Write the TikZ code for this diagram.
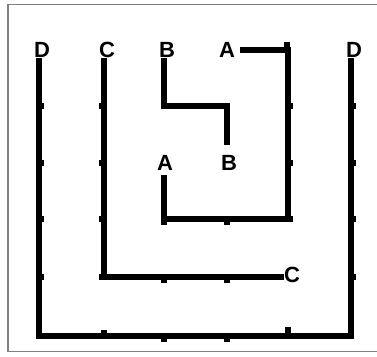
\documentclass[tikz,border=0pt]{standalone}
\usepackage{fontspec}
\setmainfont{Liberation Sans}
\usetikzlibrary{
  arrows.meta,
  positioning,
  calc
}

\begin{document}
\begin{tikzpicture}[
        x=1pt, y=-1pt,
        wire/.style={line width=5.5pt, line join=miter},
        lbl/.style={font=\fontsize{22}{24}\bfseries\selectfont, inner sep=0pt}
    ]
        \useasboundingbox (0,0) rectangle (377,356);
        % Rahmen
        \draw[gray, line width=1.5pt] (377,4.5) -- (8,4.5) -- (8,351.5) -- (377,351.5);
        % Gitterpunkte
        \foreach \c/\x in {0/39,1/104,2/164,3/227,4/288,5/351}
          \foreach \r/\y in {0/50,1/106,2/163,3/219,4/277,5/336}
            \coordinate (g\c\r) at (\x,\y);
        % kleine Marken an den Gitterpunkten
        \foreach \c/\r/\dx/\dy in {0/1/2/0, 0/2/2/0, 0/3/2/0, 0/4/2/0,
                                   1/1/-2/0, 1/2/-2/0, 1/3/-2/0, 1/4/-2/0,
                                   4/0/-1/-5, 4/1/2/0, 4/2/2/0, 4/3/2/0,
                                   5/1/2/0, 5/2/2/0, 5/3/2/0, 5/4/2/0,
                                   2/3/0/3, 3/3/0/3, 2/4/0/3, 3/4/0/3,
                                   1/5/0/-3, 2/5/0/3, 3/5/0/3, 4/5/0/-6} {
            \fill ($(g\c\r)+(\dx,\dy)+(-3,-3)$) rectangle ++(6,6);
        }
        % Buchstaben
        \node[lbl, xshift=3pt] (dL) at (g00) {D};
        \node[lbl, xshift=3pt] (cT) at (g10) {C};
        \node[lbl, xshift=3pt] (bT) at (g20) {B};
        \node[lbl] (aT) at (g30) {A};
        \node[lbl, xshift=3pt] (dR) at (g50) {D};
        \node[lbl, xshift=1pt] (aM) at (g22) {A};
        \node[lbl, xshift=2pt] (bM) at (g32) {B};
        \node[lbl, xshift=4pt, yshift=2pt] (cM) at (g44) {C};
        % Verbindungen
        \draw[wire] (dL.south -| g00) -- (g05) -- (g55) -- (dR.south -| g50);
        \draw[wire] (cT.south -| g10) -- (g14) -- (cM.west |- g44);
        \draw[wire] (bT.south -| g20) -- (g21) -- (g31) -- ($(bM.north -| g31)+(0,-10)$);
        \draw[wire] ($(aT.east)+(5,0)$) -- (g40) -- (g43) -- (g23) -- ($(aM.south -| g23)+(0,4)$);
    \end{tikzpicture}
\end{document}
